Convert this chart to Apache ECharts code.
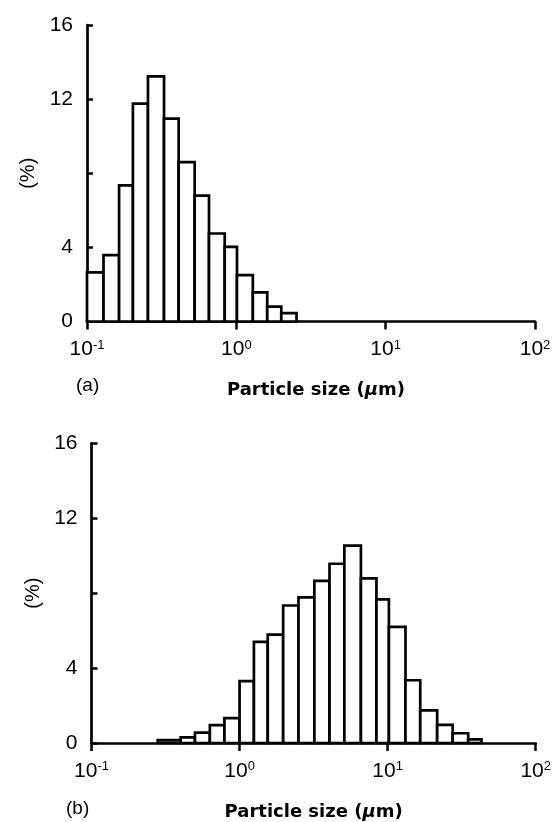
<!DOCTYPE html>
<html>
<head>
<meta charset="utf-8">
<script src="https://cdn.jsdelivr.net/npm/echarts@6/dist/echarts.min.js"></script>
<style>
  html, body { margin: 0; padding: 0; background: #fff; }
  #chart { width: 554px; height: 822px; }
</style>
</head>
<body>
<div id="chart"></div>
<script>
// ---- Data ----
// Panel (a): histogram bin edges (µm) and percentage per bin
const binEdgesA = [0.1, 0.129, 0.164, 0.203, 0.256, 0.328, 0.411, 0.526, 0.656, 0.836, 1.01, 1.29, 1.61, 2.0, 2.53];
const percentA  = [2.65, 3.58, 7.35, 11.76, 13.23, 10.95, 8.6, 6.79, 4.75, 4.03, 2.5, 1.57, 0.8, 0.45];

// Panel (b)
const binEdgesB = [0.28, 0.40, 0.50, 0.63, 0.79, 1.0, 1.25, 1.55, 1.97, 2.5, 3.2, 4.05, 5.1, 6.6, 8.4, 10.2, 13.2, 16.6, 21.6, 27.5, 35, 43];
const percentB  = [0.15, 0.3, 0.55, 0.95, 1.33, 3.3, 5.4, 5.79, 7.34, 7.77, 8.65, 9.57, 10.54, 8.79, 7.67, 6.2, 3.35, 1.74, 0.97, 0.52, 0.19];

// Axes
const yTicks = [0, 4, 8, 12, 16];
const yTickLabels = ['0', '4', '', '12', '16'];
const xMin = 0.1, xMax = 100;
const xTitleMain = 'Particle size (';
const xTitleMu = 'μ';
const xTitleEnd = 'm)';
const yTitle = '(%)';
const panelLabels = ['(a)', '(b)'];

// ---- Build ----
function toBins(edges, vals) {
  return vals.map((v, i) => [edges[i], edges[i + 1], v]);
}

function renderBar(params, api) {
  const lo = api.value(0), hi = api.value(1), v = api.value(2);
  const p0 = api.coord([lo, 0]);
  const p1 = api.coord([hi, v]);
  return {
    type: 'rect',
    shape: { x: p0[0], y: p1[1], width: p1[0] - p0[0], height: p0[1] - p1[1] },
    style: { fill: '#fff', stroke: '#000', lineWidth: 2.7 }
  };
}

const FONT = 'Liberation Sans';

function xAxisCfg(gridIndex, namePadLeft) {
  return {
    type: 'log', logBase: 10, gridIndex: gridIndex,
    min: xMin, max: xMax,
    axisLine: { show: true, lineStyle: { color: '#000', width: 2.7 } },
    axisTick: { show: true, inside: false, length: 8, lineStyle: { color: '#000', width: 2.5 } },
    minorTick: { show: false },
    splitLine: { show: false },
    axisLabel: {
      margin: 17,
      color: '#000',
      formatter: function (val) {
        const e = Math.round(Math.log10(val));
        return '{b|10}{s|' + e + '}';
      },
      rich: {
        b: { fontFamily: FONT, fontSize: 21, lineHeight: 22, color: '#000' },
        s: { fontFamily: FONT, fontSize: 13, lineHeight: 13, verticalAlign: 'top', color: '#000' }
      }
    },
    name: '{n|' + xTitleMain + '}{i|' + xTitleMu + '}{n|' + xTitleEnd + '}',
    nameLocation: 'middle',
    nameGap: 60,
    nameTextStyle: {
      padding: [0, 0, 0, namePadLeft],
      rich: {
        n: { fontFamily: 'DejaVu Sans', fontWeight: 'bold', fontSize: 18, color: '#000' },
        i: { fontFamily: 'DejaVu Sans', fontWeight: 'bold', fontStyle: 'italic', fontSize: 18, color: '#000' }
      }
    }
  };
}

function yAxisCfg(gridIndex, gap) {
  return {
    type: 'value', gridIndex: gridIndex,
    min: yTicks[0], max: yTicks[yTicks.length - 1], interval: yTicks[1] - yTicks[0],
    axisLine: { show: true, lineStyle: { color: '#000', width: 2.7 } },
    axisTick: { show: true, inside: true, length: 6, lineStyle: { color: '#000', width: 2.5 } },
    splitLine: { show: false },
    axisLabel: {
      margin: 14, color: '#000', fontFamily: FONT, fontSize: 21,
      formatter: function (val) {
        const i = yTicks.indexOf(val);
        return i >= 0 ? yTickLabels[i] : '';
      }
    },
    name: yTitle,
    nameLocation: 'middle',
    nameRotate: 90,
    nameGap: gap,
    nameTextStyle: { fontFamily: FONT, fontSize: 20, color: '#000' }
  };
}

const chart = echarts.init(document.getElementById('chart'), null, { renderer: 'canvas' });
chart.setOption({
  backgroundColor: '#fff',
  animation: false,
  title: [
    { text: panelLabels[0], left: 71, top: 371, textStyle: { fontFamily: FONT, fontSize: 19, fontWeight: 'normal', color: '#000' } },
    { text: panelLabels[1], left: 61, top: 794, textStyle: { fontFamily: FONT, fontSize: 19, fontWeight: 'normal', color: '#000' } }
  ],
  grid: [
    { left: 87, width: 448, top: 25, height: 296.5, containLabel: false },
    { left: 91.5, width: 448.5, top: 443.3, height: 300.2, containLabel: false }
  ],
  xAxis: [xAxisCfg(0, 10), xAxisCfg(1, 0)],
  yAxis: [yAxisCfg(0, 49), yAxisCfg(1, 42)],
  series: [
    { type: 'custom', xAxisIndex: 0, yAxisIndex: 0, renderItem: renderBar,
      encode: { x: [0, 1], y: 2 }, data: toBins(binEdgesA, percentA) },
    { type: 'custom', xAxisIndex: 1, yAxisIndex: 1, renderItem: renderBar,
      encode: { x: [0, 1], y: 2 }, data: toBins(binEdgesB, percentB) }
  ]
});
</script>
</body>
</html>
